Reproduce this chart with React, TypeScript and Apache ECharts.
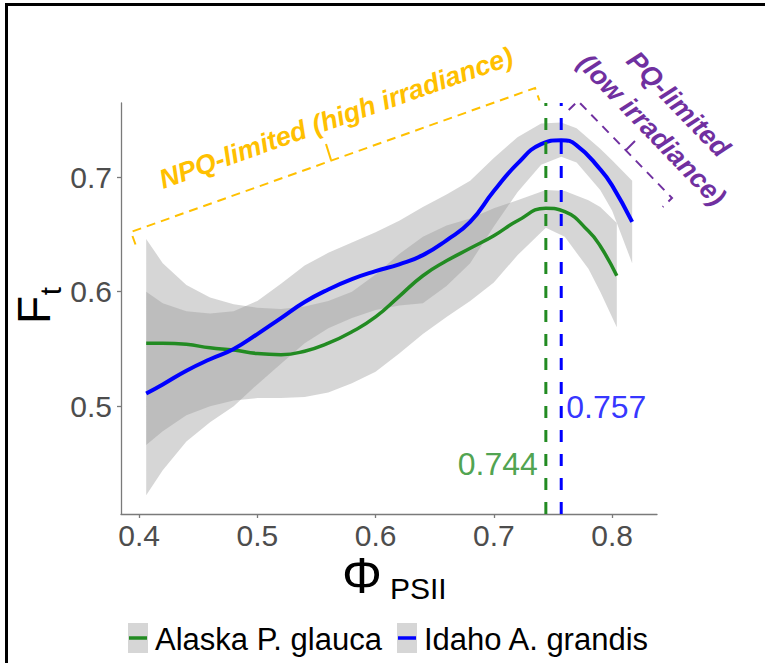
import React, { useEffect, useRef } from 'react';
import * as echarts from 'echarts';

// ---- data ----
const xTickValues = [0.4, 0.5, 0.6, 0.7, 0.8];
const yTickValues = [0.5, 0.6, 0.7];

const seriesNames = ['Alaska P. glauca', 'Idaho A. grandis'];

const alaskaX = [0.406, 0.42, 0.44, 0.46, 0.48, 0.5, 0.52, 0.54, 0.56, 0.58, 0.6, 0.62, 0.64, 0.66, 0.68, 0.7, 0.72, 0.744, 0.76, 0.78, 0.79, 0.804];
const alaskaFit = [0.555, 0.555, 0.554, 0.551, 0.549, 0.546, 0.545, 0.548, 0.555, 0.565, 0.578, 0.596, 0.614, 0.627, 0.638, 0.649, 0.662, 0.673, 0.67, 0.653, 0.64, 0.614];
const alaskaLower = [0.466, 0.478, 0.492, 0.5, 0.505, 0.507, 0.507, 0.508, 0.512, 0.52, 0.53, 0.546, 0.563, 0.578, 0.592, 0.608, 0.632, 0.656, 0.648, 0.62, 0.6, 0.569];
const alaskaUpper = [0.646, 0.625, 0.606, 0.595, 0.589, 0.586, 0.585, 0.587, 0.592, 0.6, 0.615, 0.633, 0.648, 0.658, 0.664, 0.673, 0.68, 0.689, 0.688, 0.68, 0.674, 0.66];

const idahoX = [0.406, 0.42, 0.44, 0.46, 0.48, 0.5, 0.52, 0.54, 0.56, 0.58, 0.6, 0.62, 0.64, 0.66, 0.68, 0.7, 0.72, 0.74, 0.757, 0.77, 0.79, 0.8, 0.817];
const idahoFit = [0.511, 0.519, 0.531, 0.541, 0.55, 0.563, 0.577, 0.591, 0.602, 0.611, 0.618, 0.624, 0.632, 0.645, 0.661, 0.688, 0.712, 0.729, 0.7325, 0.728, 0.707, 0.693, 0.661];
const idahoLower = [0.422, 0.444, 0.469, 0.486, 0.5, 0.519, 0.537, 0.555, 0.568, 0.577, 0.584, 0.588, 0.59, 0.605, 0.625, 0.657, 0.687, 0.711, 0.718, 0.713, 0.689, 0.671, 0.625];
const idahoUpper = [0.6, 0.59, 0.583, 0.581, 0.583, 0.592, 0.607, 0.623, 0.634, 0.643, 0.652, 0.662, 0.674, 0.685, 0.697, 0.717, 0.735, 0.747, 0.748, 0.743, 0.725, 0.715, 0.697];

const peakValues = [0.744, 0.757];
const peakLabelY = [0.449, 0.499];

const xRange = [0.3847, 0.838];
const yRange = [0.4057, 0.765];

const GREEN = '#228B22';
const BLUE = '#0000FF';
const ORANGE = '#FFC000';
const PURPLE = '#7030A0';
const FONT = '"Liberation Sans", Arial, sans-serif';

function ribbon(xs: number[], lo: number[], hi: number[]) {
  return {
    type: 'custom',
    silent: true,
    z: 1,
    data: xs.map((x, i) => [x, lo[i], hi[i]]),
    encode: { x: 0, y: [1, 2] },
    renderItem: (params: any, api: any) => {
      if (params.dataIndex !== 0) return null;
      const pts: number[][] = [];
      for (let i = 0; i < xs.length; i++) pts.push(api.coord([xs[i], hi[i]]));
      for (let i = xs.length - 1; i >= 0; i--) pts.push(api.coord([xs[i], lo[i]]));
      return {
        type: 'polygon',
        shape: { points: pts },
        style: { fill: 'rgba(153,153,153,0.4)', stroke: 'none' },
      };
    },
  };
}

function fitLine(name: string, xs: number[], ys: number[], color: string, width: number) {
  return {
    name,
    type: 'line',
    z: 3,
    smooth: true,
    showSymbol: false,
    data: xs.map((x, i) => [x, ys[i]]),
    lineStyle: { color, width },
    itemStyle: { color },
  };
}

function vline(x: number, color: string) {
  return {
    type: 'line',
    z: 4,
    showSymbol: false,
    silent: true,
    data: [
      [x, yRange[0]],
      [x, yRange[1]],
    ],
    lineStyle: { color, width: 3, type: [12, 12] },
  };
}

function peakLabel(x: number, y: number, color: string, pos: string, dist: number) {
  return {
    type: 'scatter',
    z: 5,
    silent: true,
    symbolSize: 0,
    data: [[x, y]],
    label: {
      show: true,
      formatter: x.toFixed(3),
      position: pos,
      distance: dist,
      color,
      fontSize: 32,
      fontFamily: FONT,
    },
  };
}

const deg = Math.PI / 180;

export default function App() {
  const ref = useRef<HTMLDivElement>(null);
  useEffect(() => {
    document.body.style.margin = '0';
    const chart = echarts.init(ref.current!, null, { renderer: 'svg' });
    const axisColor = '#7a7a7a';
    const option: any = {
      animation: false,
      backgroundColor: '#ffffff',
      grid: { left: 121, right: 108, top: 103, bottom: 149, containLabel: false },
      xAxis: {
        type: 'value',
        min: xRange[0],
        max: xRange[1],
        splitLine: { show: false },
        axisLine: { show: true, onZero: false, lineStyle: { color: axisColor, width: 1.3 } },
        axisTick: { show: true, length: 4, customValues: xTickValues, lineStyle: { color: axisColor, width: 1.3 } },
        axisLabel: {
          customValues: xTickValues,
          formatter: (v: number) => v.toFixed(1),
          color: '#4D4D4D',
          fontSize: 30,
          fontFamily: FONT,
          margin: 6,
        },
      },
      yAxis: {
        type: 'value',
        min: yRange[0],
        max: yRange[1],
        splitLine: { show: false },
        axisLine: { show: true, onZero: false, lineStyle: { color: axisColor, width: 1.3 } },
        axisTick: { show: true, length: 4, customValues: yTickValues, lineStyle: { color: axisColor, width: 1.3 } },
        axisLabel: {
          customValues: yTickValues,
          formatter: (v: number) => v.toFixed(1),
          color: '#4D4D4D',
          fontSize: 30,
          fontFamily: FONT,
          margin: 9,
        },
      },
      series: [
        ribbon(alaskaX, alaskaLower, alaskaUpper),
        ribbon(idahoX, idahoLower, idahoUpper),
        fitLine(seriesNames[0], alaskaX, alaskaFit, GREEN, 3.5),
        fitLine(seriesNames[1], idahoX, idahoFit, BLUE, 4),
        vline(peakValues[0], GREEN),
        vline(peakValues[1], BLUE),
        peakLabel(peakValues[0], peakLabelY[0], GREEN, 'left', 8),
        peakLabel(peakValues[1], peakLabelY[1], BLUE, 'right', 5),
      ],
      graphic: [
        // figure frame
        {
          type: 'rect',
          z: 100,
          silent: true,
          shape: { x: 6.5, y: 4.5, width: 1000, height: 1000 },
          style: { fill: 'transparent', stroke: '#000', lineWidth: 3 },
        },
        // y-axis title F_t
        {
          type: 'text',
          x: 34,
          y: 310,
          rotation: Math.PI / 2,
          style: { text: 'F', font: `46px ${FONT}`, fill: '#000', textAlign: 'center', textVerticalAlign: 'middle', verticalAlign: 'middle' },
        },
        {
          type: 'text',
          x: 50,
          y: 291,
          rotation: Math.PI / 2,
          style: { text: 't', font: `30px ${FONT}`, fill: '#000', textAlign: 'center', textVerticalAlign: 'middle', verticalAlign: 'middle' },
        },
        // x-axis title Φ_PSII
        {
          type: 'text',
          x: 342,
          y: 576,
          style: { text: 'Φ', font: `50px ${FONT}`, fill: '#000', textAlign: 'left', textVerticalAlign: 'middle', verticalAlign: 'middle' },
        },
        {
          type: 'text',
          x: 390,
          y: 588,
          style: { text: 'PSII', font: `30px ${FONT}`, fill: '#000', textAlign: 'left', textVerticalAlign: 'middle', verticalAlign: 'middle' },
        },
        // legend
        { type: 'rect', shape: { x: 128, y: 623, width: 20, height: 30 }, style: { fill: '#d6d6d6' } },
        { type: 'line', shape: { x1: 129, y1: 638, x2: 147, y2: 638 }, style: { stroke: GREEN, lineWidth: 3.5 } },
        {
          type: 'text',
          x: 155,
          y: 639,
          style: { text: seriesNames[0], font: `31px ${FONT}`, fill: '#000', textAlign: 'left', textVerticalAlign: 'middle', verticalAlign: 'middle' },
        },
        { type: 'rect', shape: { x: 397, y: 623, width: 20, height: 30 }, style: { fill: '#d6d6d6' } },
        { type: 'line', shape: { x1: 398, y1: 638, x2: 416, y2: 638 }, style: { stroke: BLUE, lineWidth: 3.5 } },
        {
          type: 'text',
          x: 424,
          y: 639,
          style: { text: seriesNames[1], font: `31px ${FONT}`, fill: '#000', textAlign: 'left', textVerticalAlign: 'middle', verticalAlign: 'middle' },
        },
        // NPQ-limited annotation
        {
          type: 'polyline',
          shape: { points: [[135.5, 244.5], [131, 232], [535, 88], [539.5, 100.5]] },
          style: { stroke: ORANGE, lineWidth: 2, lineDash: [9, 6], fill: 'none' },
        },
        {
          type: 'line',
          shape: { x1: 331, y1: 160, x2: 326, y2: 144 },
          style: { stroke: ORANGE, lineWidth: 2 },
        },
        {
          type: 'text',
          x: 336,
          y: 118,
          rotation: 19.6 * deg,
          style: {
            text: 'NPQ-limited (high irradiance)',
            font: `italic bold 27px ${FONT}`,
            fill: ORANGE,
            textAlign: 'center',
            textVerticalAlign: 'middle',
            verticalAlign: 'middle',
          },
        },
        // PQ-limited annotation
        {
          type: 'polyline',
          shape: { points: [[568.7, 110], [578, 101], [672, 198], [662.7, 207]] },
          style: { stroke: PURPLE, lineWidth: 2, lineDash: [9, 7], fill: 'none' },
        },
        {
          type: 'line',
          shape: { x1: 626, y1: 150, x2: 635, y2: 141 },
          style: { stroke: PURPLE, lineWidth: 2 },
        },
        {
          type: 'text',
          x: 665,
          y: 117,
          rotation: -46 * deg,
          style: {
            text: 'PQ-limited\n(low irradiance)',
            font: `italic bold 27px ${FONT}`,
            lineHeight: 37,
            fill: PURPLE,
            textAlign: 'center',
            textVerticalAlign: 'middle',
            verticalAlign: 'middle',
          },
        },
      ],
    };
    chart.setOption(option);
    return () => chart.dispose();
  }, []);
  return <div ref={ref} style={{ width: 765, height: 663 }} />;
}
